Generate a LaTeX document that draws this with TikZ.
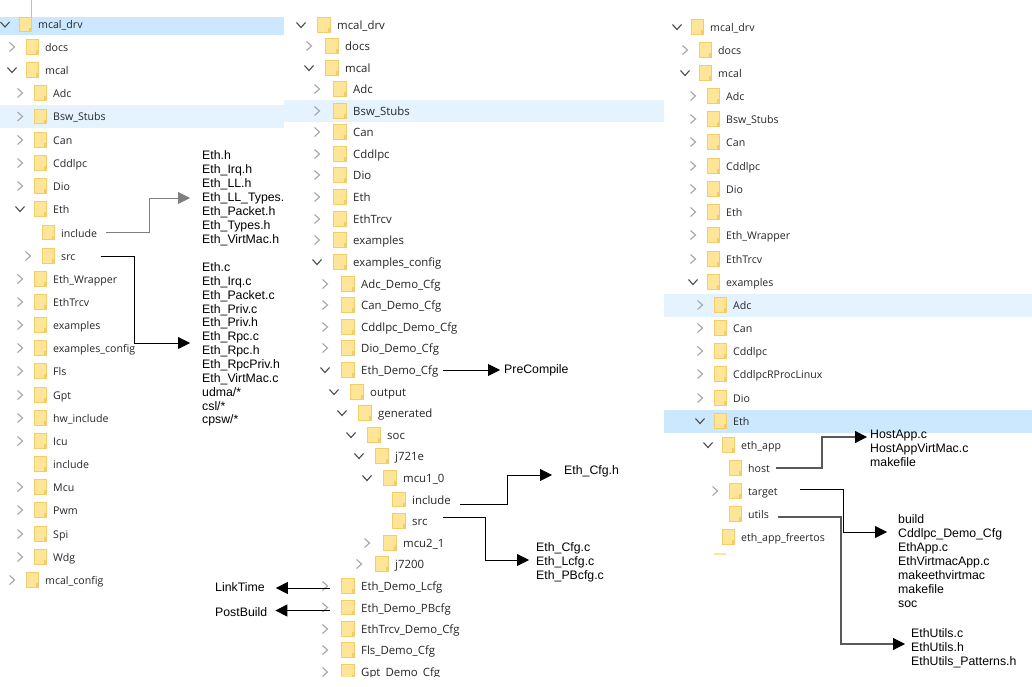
\documentclass[tikz,border=0pt]{standalone}
\usepackage{fontspec}
\setmainfont{Liberation Sans}
\newfontfamily\explorerfont{Open Sans}
\usepackage{tikz}
\usetikzlibrary{positioning, arrows.meta, calc}

\definecolor{selectblue}{HTML}{CCE8FF}
\definecolor{hoverblue}{HTML}{E5F3FF}
\definecolor{folderfill}{HTML}{FFE597}
\definecolor{folderline}{HTML}{F4CC6A}
\definecolor{darkconn}{HTML}{595959}
\definecolor{greyconn}{HTML}{7F7F7F}

\tikzset{
    folder/.style={draw=folderline, fill=folderfill, line width=0.8pt, rectangle, minimum width=12.5pt, minimum height=14.5pt, inner sep=0pt,
        path picture={\fill[folderline] ([xshift=-2.5pt]path picture bounding box.south east) rectangle ([yshift=4pt]path picture bounding box.south east);}},
    treelabel/.style={anchor=west, inner sep=0pt, text height=9pt, text depth=0pt, text=black!85, font=\explorerfont\fontsize{\treesize}{13}\selectfont},
    filelist/.style={align=left, inner sep=0pt, anchor=west, font=\fontsize{12.3}{14}\selectfont},
    rowband/.style={draw=none, rectangle},
    arrow/.style={-{Triangle[length=12pt, width=12pt]}, line width=0.8pt},
    chevc/.pic={\draw[line width=1.1pt, color=black!35] (-2.5,-4.5) -- (2.5,0) -- (-2.5,4.5);},
    chevo/.pic={\draw[line width=1.1pt, color=black!70] (-4.5,-2.5) -- (0,2.5) -- (4.5,-2.5);},
    chevn/.pic={},
}

% name, text x, row y, label, chevron
\newcommand{\treerow}[5]{%
    \pic at ({#2-\chevoff},{#3}) {#5};
    \node[folder] (#1f) at ({#2-\folderoff},{#3}) {};
    \node[treelabel] (#1) at (#2,#3) {#4};
}

\begin{document}
\begin{tikzpicture}[x=1pt, y=-1pt]
\useasboundingbox (0,0) rectangle (1032,687);
\fill[white] (0,0) rectangle (1032,687);

% Row highlights
\fill[rowband, selectblue] (0,17) rectangle (284,35);
\fill[rowband, hoverblue] (0,105) rectangle (284,128);
\fill[rowband, hoverblue] (284,100) rectangle (664,122);
\fill[rowband, hoverblue] (664,294) rectangle (1032,317);
\fill[rowband, selectblue] (664,410) rectangle (1032,433);

% Left tree
\draw[black!25, line width=1pt] (31,0) -- (31,17);
\def\treesize{10.6}
\def\folderoff{12.5}
\def\chevoff{33}
\treerow{aDrv}{38}{24.5}{mcal\_drv}{chevo}
\treerow{aDocs}{45}{47}{docs}{chevc}
\treerow{aMcal}{45}{70}{mcal}{chevo}
\treerow{aAdc}{53}{93}{Adc}{chevc}
\treerow{aBsw}{53}{116.5}{Bsw\_Stubs}{chevc}
\treerow{aCan}{53}{140}{Can}{chevc}
\treerow{aCdd}{53}{163}{Cddlpc}{chevc}
\treerow{aDio}{53}{186}{Dio}{chevc}
\treerow{aEth}{53}{209}{Eth}{chevo}
\treerow{aInclude}{61}{232.5}{include}{chevn}
\treerow{aSrc}{61}{256}{src}{chevc}
\treerow{aWrap}{53}{279}{Eth\_Wrapper}{chevc}
\treerow{aTrcv}{53}{302}{EthTrcv}{chevc}
\treerow{aExam}{53}{325}{examples}{chevc}
\treerow{aExamCfg}{53}{348}{examples\_config}{chevc}
\treerow{aFls}{53}{371}{Fls}{chevc}
\treerow{aGpt}{53}{395}{Gpt}{chevc}
\treerow{aHw}{53}{418}{hw\_include}{chevc}
\treerow{aIcu}{53}{441}{Icu}{chevc}
\treerow{aIncl}{53}{464}{include}{chevn}
\treerow{aMcu}{53}{487}{Mcu}{chevc}
\treerow{aPwm}{53}{510}{Pwm}{chevc}
\treerow{aSpi}{53}{534}{Spi}{chevc}
\treerow{aWdg}{53}{557}{Wdg}{chevc}
\treerow{aCfg}{45}{580}{mcal\_config}{chevc}

% Middle tree
\def\treesize{11.4}
\def\folderoff{13}
\def\chevoff{36}
\treerow{bDrv}{337}{25}{mcal\_drv}{chevo}
\treerow{bDocs}{345}{46}{docs}{chevc}
\treerow{bMcal}{345}{68}{mcal}{chevo}
\treerow{bAdc}{353}{89}{Adc}{chevc}
\treerow{bBsw}{353}{111}{Bsw\_Stubs}{chevc}
\treerow{bCan}{353}{132}{Can}{chevc}
\treerow{bCdd}{353}{154}{Cddlpc}{chevc}
\treerow{bDio}{353}{175}{Dio}{chevc}
\treerow{bEth}{353}{197}{Eth}{chevc}
\treerow{bTrcv}{353}{219}{EthTrcv}{chevc}
\treerow{bExam}{353}{240}{examples}{chevc}
\treerow{bExamCfg}{353}{262}{examples\_config}{chevo}
\treerow{bAdcCfg}{361}{284}{Adc\_Demo\_Cfg}{chevc}
\treerow{bCanCfg}{361}{305}{Can\_Demo\_Cfg}{chevc}
\treerow{bCddCfg}{361}{327}{Cddlpc\_Demo\_Cfg}{chevc}
\treerow{bDioCfg}{361}{348}{Dio\_Demo\_Cfg}{chevc}
\treerow{bEthCfg}{361}{370}{Eth\_Demo\_Cfg}{chevo}
\treerow{bOutput}{370}{392}{output}{chevo}
\treerow{bGen}{378}{413}{generated}{chevo}
\treerow{bSoc}{387}{435}{soc}{chevo}
\treerow{bJ721}{395}{456}{j721e}{chevo}
\treerow{bMcu1}{403}{478}{mcu1\_0}{chevo}
\treerow{bInclude}{412}{499.5}{include}{chevn}
\treerow{bSrc}{412}{521}{src}{chevn}
\treerow{bMcu2}{403}{543}{mcu2\_1}{chevc}
\treerow{bJ7200}{395}{564}{j7200}{chevc}
\treerow{bLcfg}{361}{586}{Eth\_Demo\_Lcfg}{chevc}
\treerow{bPBcfg}{361}{607.5}{Eth\_Demo\_PBcfg}{chevc}
\treerow{bTrcvCfg}{361}{629}{EthTrcv\_Demo\_Cfg}{chevc}
\treerow{bFlsCfg}{361}{650}{Fls\_Demo\_Cfg}{chevc}
\treerow{bGptCfg}{361}{672}{Gpt\_Demo\_Cfg}{chevc}
\fill[white] (284,677) rectangle (664,687);

% Right tree
\def\treesize{10.6}
\def\folderoff{12.5}
\def\chevoff{33}
\treerow{cDrv}{710}{27}{mcal\_drv}{chevo}
\treerow{cDocs}{718}{50}{docs}{chevc}
\treerow{cMcal}{718}{73}{mcal}{chevo}
\treerow{cAdc}{726}{96}{Adc}{chevc}
\treerow{cBsw}{726}{119}{Bsw\_Stubs}{chevc}
\treerow{cCan}{726}{142}{Can}{chevc}
\treerow{cCdd}{726}{166}{Cddlpc}{chevc}
\treerow{cDio}{726}{189}{Dio}{chevc}
\treerow{cEth}{726}{212}{Eth}{chevc}
\treerow{cWrap}{726}{235}{Eth\_Wrapper}{chevc}
\treerow{cTrcv}{726}{259}{EthTrcv}{chevc}
\treerow{cExam}{726}{282}{examples}{chevo}
\treerow{cExAdc}{733}{305}{Adc}{chevc}
\treerow{cExCan}{733}{328}{Can}{chevc}
\treerow{cExCdd}{733}{351}{Cddlpc}{chevc}
\treerow{cExRproc}{733}{374}{CddlpcRProcLinux}{chevc}
\treerow{cExDio}{733}{398}{Dio}{chevc}
\treerow{cExEth}{733}{421}{Eth}{chevo}
\treerow{cApp}{741}{445}{eth\_app}{chevo}
\treerow{cHost}{748}{468}{host}{chevn}
\treerow{cTarget}{748}{491}{target}{chevc}
\treerow{cUtils}{748}{514}{utils}{chevn}
\treerow{cFree}{741}{537}{eth\_app\_freertos}{chevn}
\fill[folderfill] (714,553) rectangle (726,554.5);

% File lists
\node[filelist] (inclist) at (202,198.5) {Eth.h\\Eth\_Irq.h\\Eth\_LL.h\\Eth\_LL\_Types.\\Eth\_Packet.h\\Eth\_Types.h\\Eth\_VirtMac.h};
\node[filelist, font=\fontsize{12.3}{13.85}\selectfont] (srclist) at (202,344.5) {Eth.c\\Eth\_Irq.c\\Eth\_Packet.c\\Eth\_Priv.c\\Eth\_Priv.h\\Eth\_Rpc.c\\Eth\_Rpc.h\\Eth\_RpcPriv.h\\Eth\_VirtMac.c\\udma/*\\csl/*\\cpsw/*};
\node[filelist] (precomp) at (504,370) {PreCompile};
\node[filelist] (cfgh) at (564,471) {Eth\_Cfg.h};
\node[filelist] (cfgc) at (536,562) {Eth\_Cfg.c\\Eth\_Lcfg.c\\Eth\_PBcfg.c};
\node[filelist] (linktime) at (215,587) {LinkTime};
\node[filelist] (postbuild) at (215,612) {PostBuild};
\node[filelist] (hostlist) at (870,448.5) {HostApp.c\\HostAppVirtMac.c\\makefile};
\node[filelist] (targetlist) at (898,561.5) {build\\Cddlpc\_Demo\_Cfg\\EthApp.c\\EthVirtmacApp.c\\makeethvirtmac\\makefile\\soc};
\node[filelist] (utilslist) at (911,648) {EthUtils.c\\EthUtils.h\\EthUtils\_Patterns.h};

% Connections
\coordinate (incturn) at (149,232.5);
\draw[arrow, greyconn] ([xshift=9pt]aInclude.east) -- (incturn) |- ([xshift=-12pt,yshift=0.5pt]inclist.west);
\draw[arrow] ([xshift=25pt]aSrc.east) -| (134,343) -- ([xshift=-12pt,yshift=1.5pt]srclist.west);
\draw[arrow] ([xshift=5pt]bEthCfg.east) -- ([xshift=-4pt]precomp.west);
\draw[arrow] ([xshift=9pt,yshift=-4.5pt]bInclude.east) -| (507,475) -- ([xshift=-12pt,yshift=-4pt]cfgh.west);
\draw[arrow] ([xshift=15pt,yshift=4pt]bSrc.east) -| (485,560) -- ([xshift=-7pt,yshift=2pt]cfgc.west);
\draw[arrow] ([xshift=-31pt,yshift=-2pt]bLcfg.west) -- ([xshift=11pt,yshift=-1pt]linktime.east);
\draw[arrow] ([xshift=-31pt,yshift=-3pt]bPBcfg.west) -- ([xshift=8pt,yshift=1.5pt]postbuild.east);
\draw[arrow, darkconn, line width=1.1pt, -{Triangle[length=12pt, width=12pt, color=black]}] ([xshift=6pt]cHost.east) -| (822,437) -- ([xshift=-3pt,yshift=11.5pt]hostlist.west);
\draw[arrow] ([xshift=22pt,yshift=2pt]cTarget.east) -| (843,532) -- ([xshift=-11pt,yshift=29.5pt]targetlist.west);
\draw[arrow, darkconn, line width=1.1pt, -{Triangle[length=12pt, width=12pt, color=black]}] ([xshift=9pt,yshift=-3pt]cUtils.east) -| (841,644) -- ([xshift=-6pt,yshift=4pt]utilslist.west);

\end{tikzpicture}
\end{document}
